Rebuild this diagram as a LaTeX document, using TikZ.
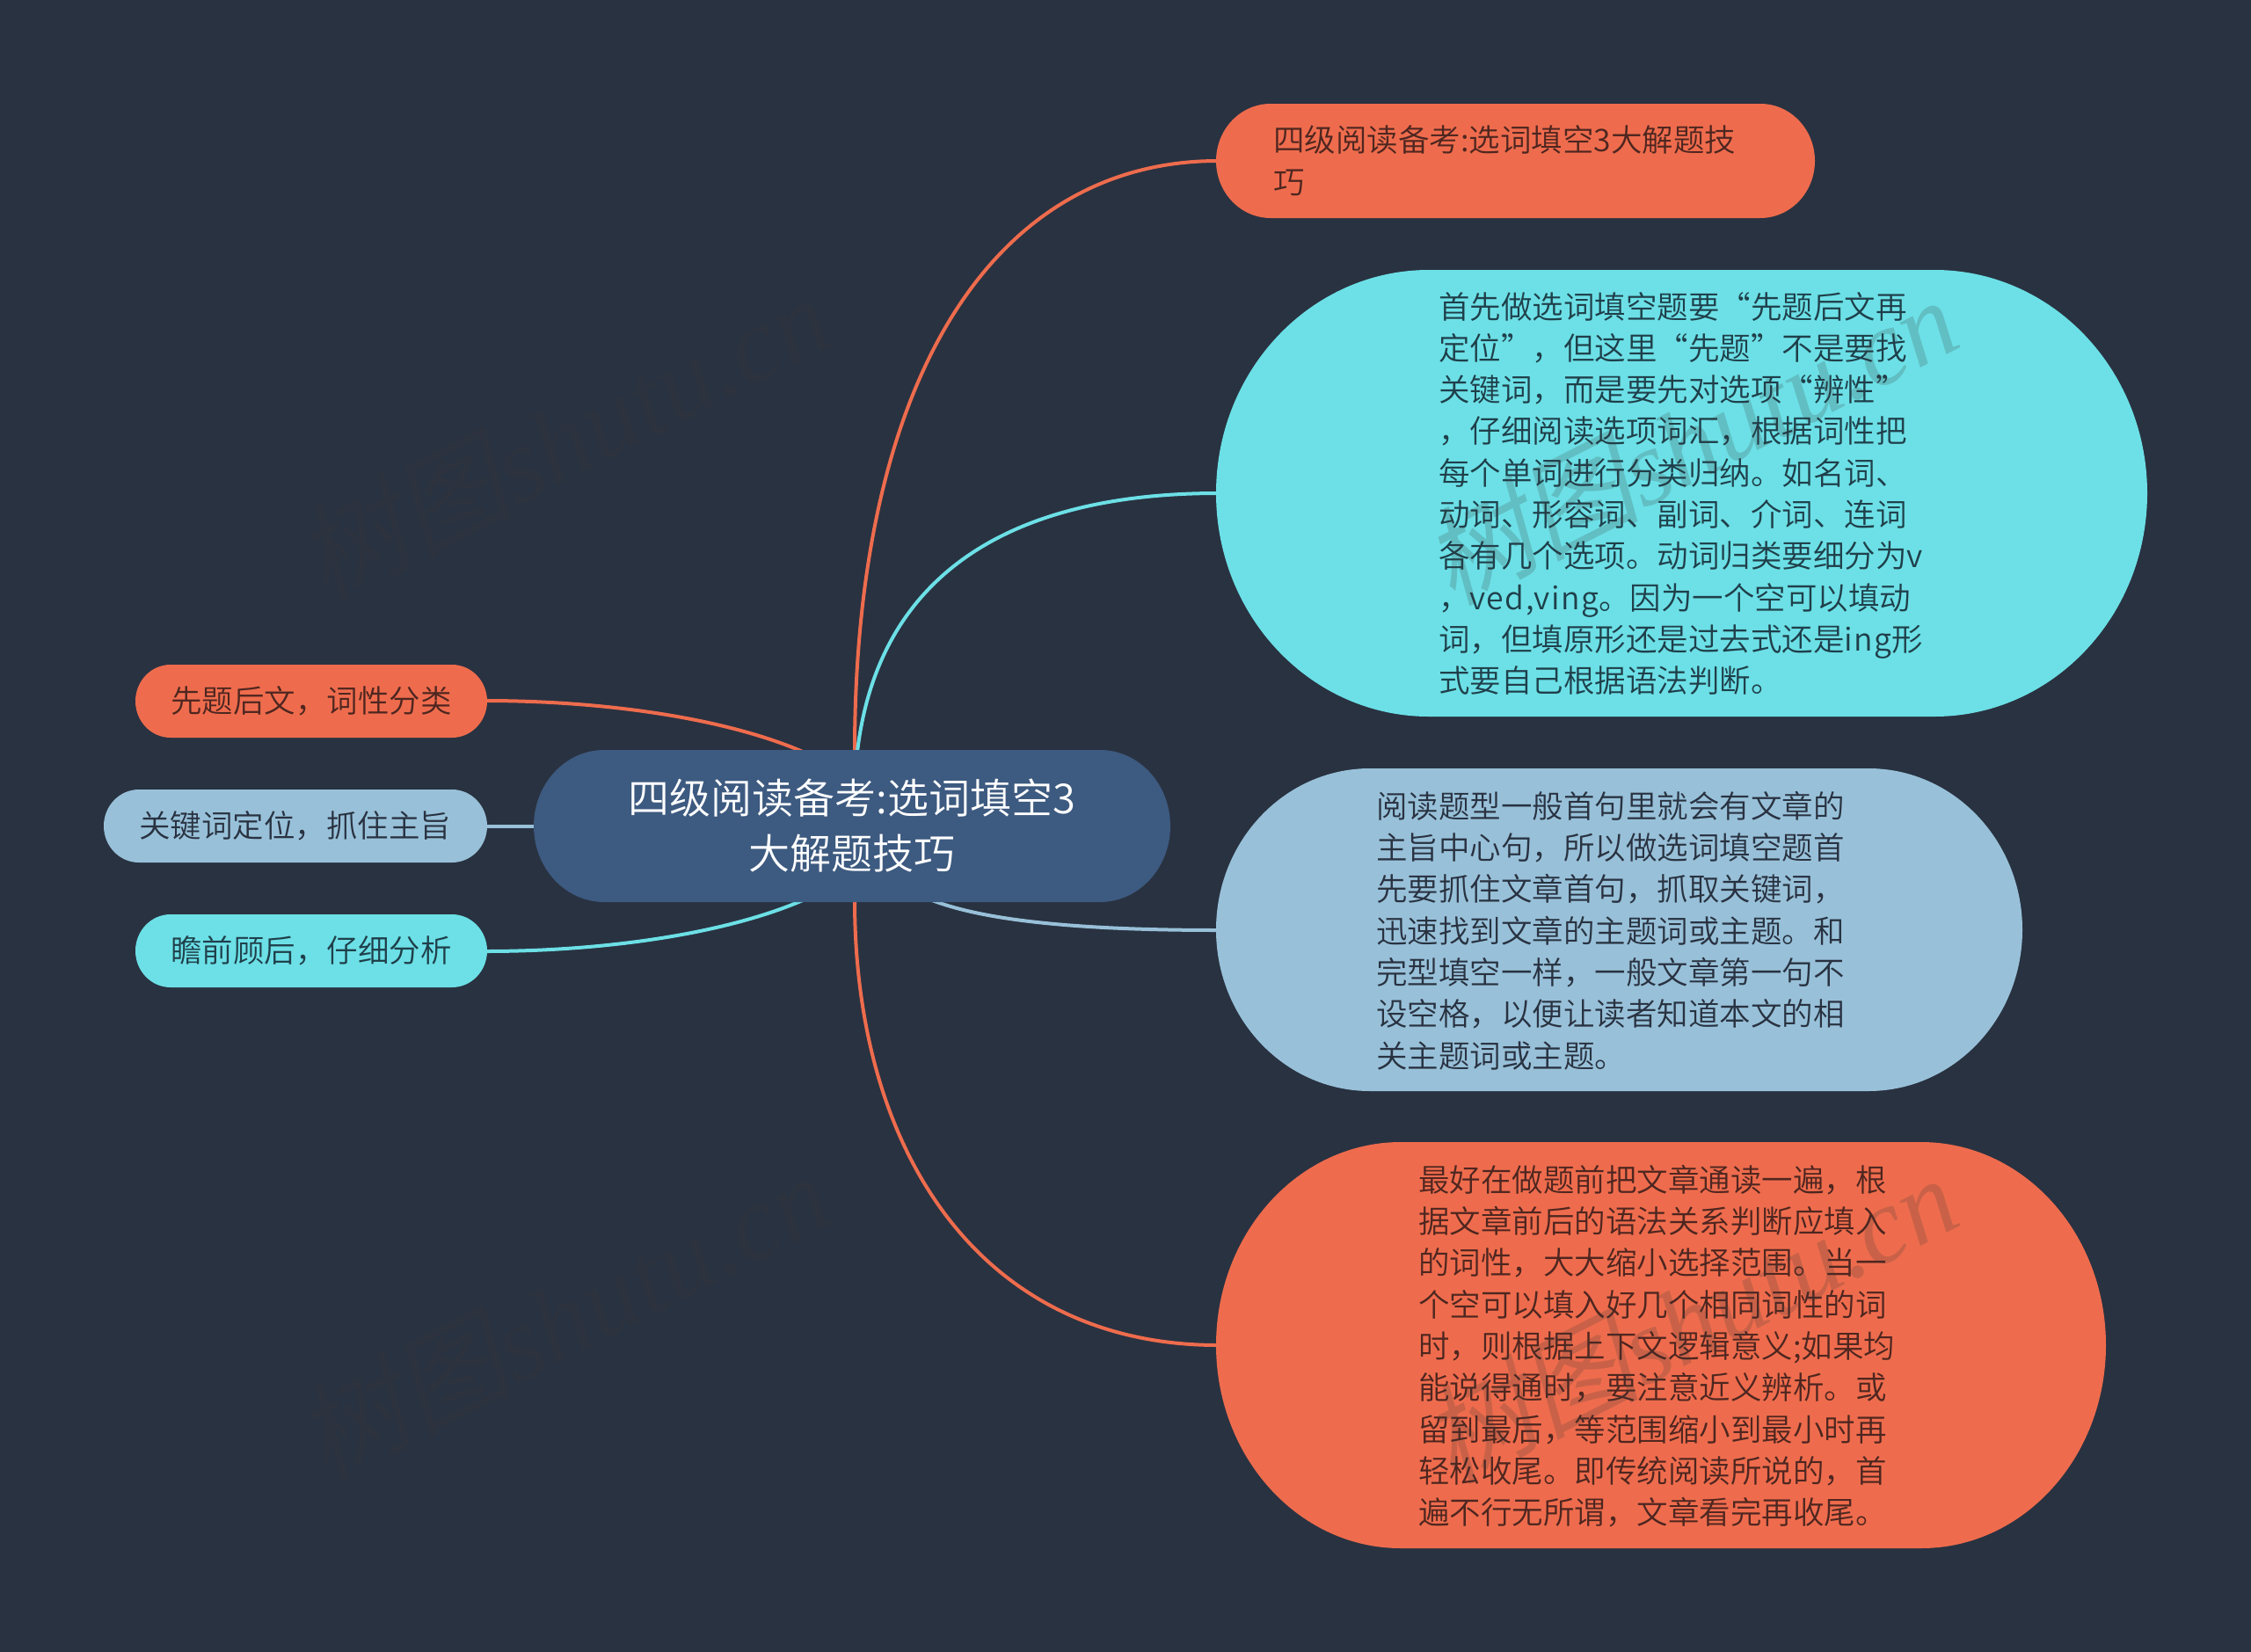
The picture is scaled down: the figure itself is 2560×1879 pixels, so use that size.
\documentclass[tikz,border=0pt]{standalone}
\usepackage{fontspec}
\setmainfont{Noto Sans CJK SC DemiLight}
\newfontfamily\latsp[LetterSpace=4]{Noto Sans CJK SC DemiLight}
\newfontfamily\wmfont{Liberation Serif}
\newfontfamily\wmcjk[FakeSlant=0.2]{Noto Sans CJK SC}
\usetikzlibrary{calc}
\definecolor{bgc}{HTML}{293241}
\definecolor{rootc}{HTML}{3D5A80}
\definecolor{orc}{HTML}{EE6C4D}
\definecolor{cyc}{HTML}{6CE0E6}
\definecolor{blc}{HTML}{98C1D9}
\definecolor{ortx}{HTML}{4E2620}
\definecolor{cytx}{HTML}{1F3F4A}
\definecolor{bltx}{HTML}{293241}
\definecolor{wmc}{HTML}{383838}
\tikzset{
  box/.style={draw=none,fill=none,inner sep=0pt,outer sep=0pt,rectangle},
  txt/.style={inner sep=0pt,outer sep=0pt,align=left,anchor=north west,font=\fontsize{35.5}{47.3}\selectfont},
  rtxt/.style={inner sep=0pt,outer sep=0pt,align=center,text=white,font=\fontsize{47}{63}\selectfont},
  link/.style={line width=4pt},
  wm/.style={rotate=27,text=wmc,opacity=0.2,inner sep=0pt,font=\fontsize{122}{122}\selectfont}
}
% name, x1, y1, x2, y2, rx, colour
\newcommand{\pill}[7]{%
  \pgfmathsetmacro{\ry}{(#5-#3)/2}%
  \fill[#7] (#2+#6,#3) -- (#4-#6,#3)
     arc[start angle=90,end angle=0,x radius=#6,y radius=-\ry]
     arc[start angle=0,end angle=-90,x radius=#6,y radius=-\ry]
     -- (#2+#6,#5)
     arc[start angle=-90,end angle=-180,x radius=#6,y radius=-\ry]
     arc[start angle=180,end angle=90,x radius=#6,y radius=-\ry] -- cycle;
  \node[box,minimum width=#4pt-#2pt,minimum height=#5pt-#3pt] (#1) at ({(#2+#4)/2},{(#3+#5)/2}) {};%
}
\begin{document}
\begin{tikzpicture}[x=1pt,y=-1pt]
\useasboundingbox (0,0) rectangle (2560,1879);
\fill[bgc] (0,0) rectangle (2560,1879);
\coordinate (rA) at (972,855);
\coordinate (rB) at (975,855);
\coordinate (rC) at (1060,1024);
\coordinate (rD) at (972,1024);
\coordinate (rLA) at (913,855);
\coordinate (rLB) at (610,940);
\coordinate (rLC) at (913,1024);
\coordinate (nA) at (1385,183);
\coordinate (nB) at (1385,561);
\coordinate (nC) at (1385,1058);
\coordinate (nD) at (1385,1530);
\coordinate (lA) at (552,797);
\coordinate (lB) at (552,940);
\coordinate (lC) at (552,1082);
% connectors
\draw[link,orc] (rA) .. controls (972,430) and (1130,183) .. (nA);
\draw[link,cyc] (rB) .. controls (1000,645) and (1160,561) .. (nB);
\draw[link,blc] (rC) .. controls (1110,1043) and (1200,1058) .. (nC);
\draw[link,orc] (rD) .. controls (972,1310) and (1115,1530) .. (nD);
\draw[link,orc] (lA) .. controls (680,797) and (820,815) .. (rLA);
\draw[link,blc] (lB) -- (rLB);
\draw[link,cyc] (lC) .. controls (680,1082) and (820,1064) .. (rLC);
% nodes
\pill{root}{607}{853}{1331}{1026}{80}{rootc}
\pill{a}{1383}{118}{2064}{248}{62}{orc}
\pill{b}{1383}{307}{2442}{815}{242}{cyc}
\pill{c}{1383}{874}{2300}{1241}{175}{blc}
\pill{d}{1383}{1299}{2395}{1761}{210}{orc}
\pill{la}{154}{756}{554}{839}{40}{orc}
\pill{lb}{118}{898}{554}{981}{40}{blc}
\pill{lc}{154}{1040}{554}{1123}{40}{cyc}
% texts
\node[rtxt] (roott) at (root.center) {四级阅读备考:选词填空3\\大解题技巧};
\node[txt,text=ortx] (at) at (1448,143) {四级阅读备考:选词填空3大解题技\\巧};
\node[txt,text=cytx] (bt) at (1636,332) {首先做选词填空题要“先题后文再\\定位”，但这里“先题”不是要找\\关键词，而是要先对选项“辨性”\\，仔细阅读选项词汇，根据词性把\\每个单词进行分类归纳。如名词、\\动词、形容词、副词、介词、连词\\各有几个选项。动词归类要细分为v\\，{\latsp ved,ving}。因为一个空可以填动\\词，但填原形还是过去式还是{\latsp ing}形\\式要自己根据语法判断。};
\node[txt,text=bltx] (ct) at (1565,900) {阅读题型一般首句里就会有文章的\\主旨中心句，所以做选词填空题首\\先要抓住文章首句，抓取关键词，\\迅速找到文章的主题词或主题。和\\完型填空一样，一般文章第一句不\\设空格，以便让读者知道本文的相\\关主题词或主题。};
\node[txt,text=ortx] (dt) at (1613,1325) {最好在做题前把文章通读一遍，根\\据文章前后的语法关系判断应填入\\的词性，大大缩小选择范围。当一\\个空可以填入好几个相同词性的词\\时，则根据上下文逻辑意义;如果均\\能说得通时，要注意近义辨析。或\\留到最后，等范围缩小到最小时再\\轻松收尾。即传统阅读所说的，首\\遍不行无所谓，文章看完再收尾。};
\node[txt,text=ortx,anchor=west] (lat) at (194,797.5) {先题后文，词性分类};
\node[txt,text=bltx,anchor=west] (lbt) at (158,939.5) {关键词定位，抓住主旨};
\node[txt,text=cytx,anchor=west] (lct) at (194,1081.5) {瞻前顾后，仔细分析};
% watermarks
\node[wm] (w1) at (1922,500) {\wmcjk 树图\wmfont\itshape shutu.cn};
\node[wm] (w2) at (1922,1499) {\wmcjk 树图\wmfont\itshape shutu.cn};
\node[wm] (w3) at (640,497) {\wmcjk 树图\wmfont\itshape shutu.cn};
\node[wm] (w4) at (640,1496) {\wmcjk 树图\wmfont\itshape shutu.cn};
\end{tikzpicture}
\end{document}
